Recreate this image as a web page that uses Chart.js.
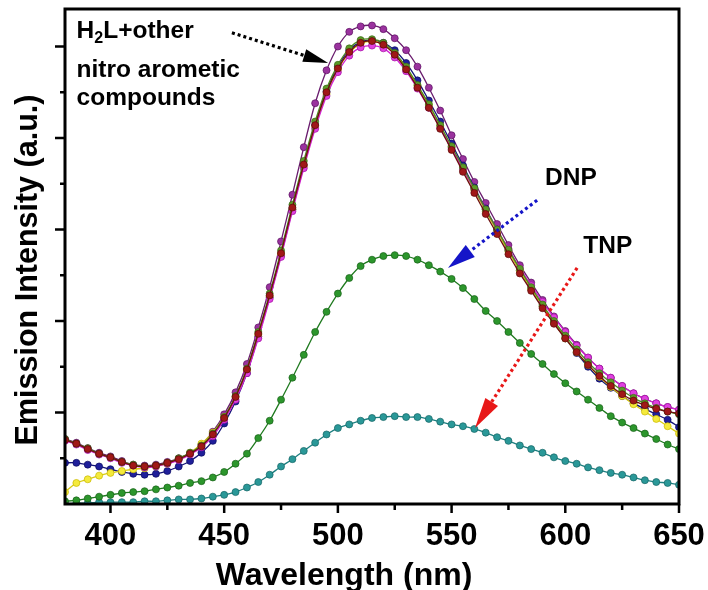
<!DOCTYPE html>
<html>
<head>
<meta charset="utf-8">
<script src="https://cdn.jsdelivr.net/npm/chart.js@4"></script>
<style>
  html, body { margin:0; padding:0; background:#fff; }
  #wrap { width:708px; height:590px; }
</style>
</head>
<body>
<div id="wrap"><canvas id="chart" width="708" height="590"></canvas></div>
<script>
// emission spectra, H2L with nitro aromatics
const FONT = '"Liberation Sans", Arial, Helvetica, sans-serif';

const wavelength = [380,385,390,395,400,405,410,415,420,425,430,435,440,445,450,455,460,465,470,475,480,485,490,495,500,505,510,515,520,525,530,535,540,545,550,555,560,565,570,575,580,585,590,595,600,605,610,615,620,625,630,635,640,645,650];

// H2L + other nitro aromatic compounds (overlapping group)
const darkRed = [0.70,0.66,0.60,0.55,0.51, 0.46,0.42,0.41,0.42,0.45, 0.49,0.55,0.63,0.76,0.94, 1.17,1.47,1.86,2.28,2.74, 3.24,3.71,4.14,4.50,4.76, 4.94,5.04,5.06,5.02,4.91, 4.75,4.55,4.33,4.10,3.87, 3.63,3.40,3.17,2.95,2.73, 2.52,2.33,2.14,1.97,1.81, 1.66,1.52,1.40,1.29,1.20, 1.13,1.08,1.04,1.01,0.99];
const purple  = [0.71,0.67,0.61,0.56,0.52, 0.47,0.43,0.42,0.43,0.46, 0.50,0.56,0.65,0.79,0.98, 1.22,1.53,1.93,2.37,2.87, 3.38,3.90,4.38,4.74,5.00, 5.16,5.22,5.23,5.19,5.09, 4.96,4.78,4.55,4.30,4.03, 3.77,3.52,3.29,3.06,2.83, 2.61,2.42,2.23,2.05,1.89, 1.74,1.60,1.48,1.38,1.29, 1.21,1.15,1.10,1.06,1.03];
const magenta = [0.69,0.65,0.59,0.54,0.50, 0.45,0.42,0.40,0.41,0.44, 0.48,0.54,0.62,0.74,0.92, 1.14,1.43,1.81,2.24,2.70, 3.20,3.67,4.10,4.46,4.72, 4.90,4.99,5.01,4.98,4.88, 4.73,4.54,4.33,4.11,3.89, 3.66,3.44,3.22,3.00,2.79, 2.58,2.39,2.21,2.04,1.88, 1.73,1.60,1.48,1.38,1.29, 1.21,1.15,1.10,1.06,1.03];
const navy    = [0.45,0.45,0.43,0.41,0.38, 0.35,0.33,0.32,0.33,0.36, 0.41,0.47,0.56,0.69,0.88, 1.12,1.43,1.83,2.26,2.72, 3.22,3.70,4.14,4.51,4.78, 4.96,5.05,5.07,5.04,4.96, 4.82,4.63,4.41,4.18,3.94, 3.70,3.46,3.23,3.00,2.77, 2.55,2.35,2.16,1.98,1.81, 1.65,1.50,1.37,1.27,1.18, 1.10,1.04,0.98,0.92,0.84];
const yellow  = [0.13,0.23,0.27,0.31,0.34, 0.36,0.38,0.39,0.41,0.44, 0.49,0.56,0.66,0.78,0.95, 1.17,1.46,1.85,2.27,2.73, 3.22,3.69,4.12,4.48,4.75, 4.93,5.03,5.06,5.02,4.92, 4.77,4.57,4.36,4.13,3.90, 3.66,3.43,3.20,2.98,2.76, 2.55,2.35,2.16,1.98,1.81, 1.66,1.52,1.39,1.28,1.18, 1.09,1.01,0.93,0.85,0.77];
const olive   = [0.71,0.66,0.61,0.55,0.51, 0.46,0.43,0.41,0.42,0.45, 0.50,0.56,0.64,0.77,0.95, 1.18,1.48,1.88,2.30,2.77, 3.27,3.75,4.18,4.54,4.80, 4.98,5.07,5.08,5.04,4.93, 4.78,4.58,4.37,4.14,3.91, 3.68,3.45,3.22,3.00,2.78, 2.57,2.37,2.18,2.00,1.84, 1.69,1.55,1.43,1.33,1.24, 1.16,1.10,1.05,1.01,0.98];

// quenched spectra
const dnp = [0.03,0.04,0.06,0.08,0.10, 0.12,0.13,0.14,0.16,0.18, 0.20,0.23,0.25,0.29,0.35, 0.44,0.55,0.72,0.91,1.14, 1.38,1.63,1.88,2.10,2.30, 2.47,2.60,2.67,2.71,2.72, 2.71,2.67,2.61,2.54,2.46, 2.36,2.24,2.11,2.00,1.88, 1.76,1.64,1.53,1.42,1.32, 1.23,1.14,1.05,0.96,0.89, 0.83,0.77,0.71,0.65,0.60];
const tnp = [0.00,0.01,0.01,0.02,0.02, 0.02,0.02,0.03,0.03,0.04, 0.05,0.05,0.06,0.08,0.10, 0.13,0.18,0.24,0.32,0.41, 0.49,0.58,0.67,0.76,0.83, 0.87,0.91,0.94,0.95,0.96, 0.95,0.95,0.93,0.90,0.87, 0.85,0.82,0.78,0.73,0.69, 0.64,0.60,0.56,0.51,0.47, 0.44,0.40,0.37,0.34,0.32, 0.29,0.26,0.24,0.23,0.21];

const xMajorTicks = [400,450,500,550,600,650];
const xMinorTicks = [425,475,525,575,625];
const yMajorTicks = [1,2,3,4,5];
const yMinorTicks = [0.5,1.5,2.5,3.5,4.5];

function series(data, line, dot, edge){
  return {
    data: wavelength.map((w,i)=>({x:w, y:data[i]})),
    borderColor: line, borderWidth: 1.3,
    pointRadius: 3.5, pointBackgroundColor: dot, pointBorderColor: edge, pointBorderWidth: 0.7,
    tension: 0.3
  };
}

// [x, y] anchors in data units
const notes = {
  h2lLines: [[385.1,5.09],[385.1,4.67],[385.1,4.36]],
  blackArrow: [[453.4,5.15],[495.7,4.82]],
  dnpLabel: [591.1,3.49],
  blueArrow: [[587.6,3.32],[548.4,2.58]],
  tnpLabel: [607.9,2.74],
  redArrow: [[605.2,2.58],[560.3,0.83]]
};

function dottedArrow(ctx, x0, y0, x1, y1, color, headLen, headW){
  const ang = Math.atan2(y1-y0, x1-x0);
  const bx = x1 - Math.cos(ang)*headLen, by = y1 - Math.sin(ang)*headLen;
  ctx.save();
  ctx.strokeStyle = color; ctx.fillStyle = color;
  ctx.lineWidth = 3.2; ctx.setLineDash([3,3]); ctx.lineCap = "butt";
  ctx.beginPath(); ctx.moveTo(x0,y0); ctx.lineTo(bx,by); ctx.stroke();
  ctx.setLineDash([]);
  const nx = -Math.sin(ang)*headW/2, ny = Math.cos(ang)*headW/2;
  ctx.beginPath();
  ctx.moveTo(x1,y1); ctx.lineTo(bx+nx,by+ny); ctx.lineTo(bx-nx,by-ny); ctx.closePath();
  ctx.fill();
  ctx.restore();
}

const overlay = {
  id: "overlay",
  afterDraw(chart){
    const {ctx, chartArea:a, scales:{x, y}} = chart;
    const px = v => x.getPixelForValue(v), py = v => y.getPixelForValue(v);
    ctx.save();
    ctx.strokeStyle = "#000"; ctx.lineCap = "butt";

    // outward ticks
    ctx.lineWidth = 2.5;
    ctx.beginPath();
    xMajorTicks.forEach(v=>{ ctx.moveTo(px(v), a.bottom); ctx.lineTo(px(v), a.bottom+9); });
    xMinorTicks.forEach(v=>{ ctx.moveTo(px(v), a.bottom); ctx.lineTo(px(v), a.bottom+6); });
    yMajorTicks.forEach(v=>{ ctx.moveTo(a.left, py(v)); ctx.lineTo(a.left-10, py(v)); });
    yMinorTicks.forEach(v=>{ ctx.moveTo(a.left, py(v)); ctx.lineTo(a.left-5, py(v)); });
    ctx.stroke();

    // frame
    ctx.lineWidth = 3;
    ctx.strokeRect(a.left, a.top, a.right-a.left, a.bottom-a.top);

    // axis titles
    ctx.fillStyle = "#000";
    ctx.font = "bold 32px " + FONT;
    ctx.textAlign = "center"; ctx.textBaseline = "alphabetic";
    ctx.fillText("Wavelength (nm)", 344, 585);
    ctx.save();
    ctx.translate(37, 270); ctx.rotate(-Math.PI/2);
    ctx.font = "bold 30.5px " + FONT;
    ctx.fillText("Emission Intensity (a.u.)", 0, 0);
    ctx.restore();

    // annotations
    ctx.textAlign = "left";
    const [l1, l2, l3] = notes.h2lLines;
    let tx = px(l1[0]), ty = py(l1[1]);
    ctx.font = "bold 24.5px " + FONT;
    ctx.fillText("H", tx, ty); tx += ctx.measureText("H").width;
    ctx.font = "bold 16px " + FONT;
    ctx.fillText("2", tx, ty+5); tx += ctx.measureText("2").width;
    ctx.font = "bold 24.5px " + FONT;
    ctx.fillText("L+other", tx, ty);
    ctx.fillText("nitro arometic", px(l2[0]), py(l2[1]));
    ctx.fillText("compounds", px(l3[0]), py(l3[1]));
    ctx.fillText("DNP", px(notes.dnpLabel[0]), py(notes.dnpLabel[1]));
    ctx.fillText("TNP", px(notes.tnpLabel[0]), py(notes.tnpLabel[1]));

    const arr = (p, c, hl, hw) => dottedArrow(ctx, px(p[0][0]), py(p[0][1]), px(p[1][0]), py(p[1][1]), c, hl, hw);
    arr(notes.blackArrow, "#000000", 25, 13);
    arr(notes.blueArrow, "#1515c8", 28, 15);
    arr(notes.redArrow, "#e81818", 31, 15);
    ctx.restore();
  }
};

new Chart(document.getElementById("chart"), {
  type: "line",
  data: {
    datasets: [
      series(darkRed, "#6e1010", "#a01818", "#5a0808"),
      series(olive,   "#4d8a1e", "#5c9a28", "#3a6a14"),
      series(magenta, "#d21fd2", "#e040e0", "#a010a0"),
      series(yellow,  "#d8cc10", "#f4ea3c", "#c8b800"),
      series(navy,    "#141478", "#1f1f9a", "#0a0a60"),
      series(purple,  "#6a1c6e", "#9a329e", "#5a1060"),
      series(dnp,     "#1f7a1f", "#2c962c", "#186018"),
      series(tnp,     "#1d7f80", "#2a9898", "#156464")
    ]
  },
  options: {
    responsive: false,
    animation: false,
    layout: { padding: { top: 9, right: 29, left: 0, bottom: 0 } },
    plugins: { legend: { display: false }, tooltip: { enabled: false } },
    scales: {
      x: {
        type: "linear", min: 380, max: 650,
        afterBuildTicks: s => { s.ticks = xMajorTicks.map(v=>({value:v})); },
        afterFit: s => { s.height = 86; s.paddingLeft = 0; s.paddingRight = 0; },
        grid: { display: false }, border: { display: false },
        ticks: { color: "#000", padding: 6, font: { family: FONT, size: 31, weight: "bold" }, maxRotation: 0 }
      },
      y: {
        min: 0, max: 5.41,
        afterFit: s => { s.width = 65; s.paddingTop = 0; s.paddingBottom = 0; },
        grid: { display: false }, border: { display: false },
        ticks: { display: false }
      }
    }
  },
  plugins: [overlay]
});
</script>
</body>
</html>
